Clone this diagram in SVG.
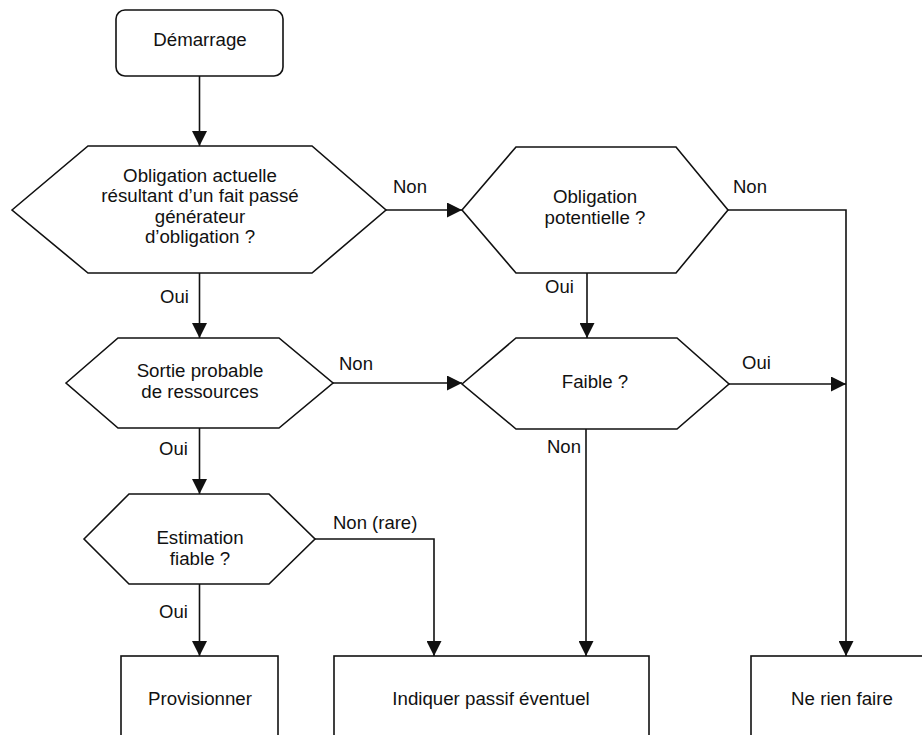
<svg xmlns="http://www.w3.org/2000/svg" width="922" height="735" viewBox="0 0 922 735">
<defs>
<style>
.shape{fill:#fff;stroke:#111;stroke-width:1.6}
.t{font-family:"Liberation Sans",Arial,sans-serif;font-size:18.7px;fill:#111;text-anchor:middle}
.l{font-family:"Liberation Sans",Arial,sans-serif;font-size:18.5px;fill:#111}
.c{fill:none;stroke:#111;stroke-width:1.6}
</style>
<marker id="arr" markerUnits="userSpaceOnUse" markerWidth="15" markerHeight="15" refX="15" refY="7.5" orient="auto">
<path d="M0,0 L15,7.5 L0,15 z" fill="#111"/>
</marker>
</defs>
<rect width="922" height="735" fill="#fff"/>
<g id="connectors">
<path class="c" d="M199.5,76 V146" marker-end="url(#arr)"/>
<path class="c" d="M386,210 H462" marker-end="url(#arr)"/>
<path class="c" d="M728,210 H846 V656" marker-end="url(#arr)"/>
<path class="c" d="M587,273 V338" marker-end="url(#arr)"/>
<path class="c" d="M728,384 H846" marker-end="url(#arr)"/>
<path class="c" d="M199.5,273 V338" marker-end="url(#arr)"/>
<path class="c" d="M333,383 H462" marker-end="url(#arr)"/>
<path class="c" d="M199.5,428 V494" marker-end="url(#arr)"/>
<path class="c" d="M315,539 H434 V656" marker-end="url(#arr)"/>
<path class="c" d="M586,429 V656" marker-end="url(#arr)"/>
<path class="c" d="M199.5,584 V656" marker-end="url(#arr)"/>
<text class="l" x="393" y="193">Non</text>
<text class="l" x="733" y="193">Non</text>
<text class="l" x="545" y="293">Oui</text>
<text class="l" x="160" y="303">Oui</text>
<text class="l" x="339" y="370">Non</text>
<text class="l" x="742" y="369">Oui</text>
<text class="l" x="547" y="453">Non</text>
<text class="l" x="159" y="455">Oui</text>
<text class="l" x="333" y="529">Non (rare)</text>
<text class="l" x="159" y="618">Oui</text>
</g>
<g id="start">
<rect class="shape" x="116" y="10" width="167" height="66" rx="9"/>
<text class="t" x="200" y="46">Démarrage</text>
</g>
<g id="obligation-actuelle">
<polygon class="shape" points="12,210 88,146 312,146 386,210 312,273 88,273"/>
<text class="t" x="200" y="182">Obligation actuelle</text>
<text class="t" x="200" y="202">résultant d’un fait passé</text>
<text class="t" x="200" y="223">générateur</text>
<text class="t" x="200" y="243">d’obligation ?</text>
</g>
<g id="obligation-potentielle">
<polygon class="shape" points="462,210 516,147 676,147 728,210 676,273 516,273"/>
<text class="t" x="595" y="203">Obligation</text>
<text class="t" x="595" y="224">potentielle ?</text>
</g>
<g id="faible">
<polygon class="shape" points="462,384 516,338 677,338 729,384 677,429 516,429"/>
<text class="t" x="595" y="388">Faible ?</text>
</g>
<g id="sortie-probable">
<polygon class="shape" points="66,383 118,338 279,338 333,383 279,428 118,428"/>
<text class="t" x="200" y="377">Sortie probable</text>
<text class="t" x="200" y="398">de ressources</text>
</g>
<g id="estimation-fiable">
<polygon class="shape" points="84,539 129,494 269,494 315,539 269,584 129,584"/>
<text class="t" x="200" y="544">Estimation</text>
<text class="t" x="200" y="565">fiable ?</text>
</g>
<g id="provisionner">
<rect class="shape" x="121" y="656" width="157" height="95"/>
<text class="t" x="200" y="705">Provisionner</text>
</g>
<g id="passif-eventuel">
<rect class="shape" x="334" y="656" width="315" height="95"/>
<text class="t" x="491" y="705">Indiquer passif éventuel</text>
</g>
<g id="ne-rien-faire">
<rect class="shape" x="751" y="656" width="184" height="95"/>
<text class="t" x="842" y="705">Ne rien faire</text>
</g>
</svg>
